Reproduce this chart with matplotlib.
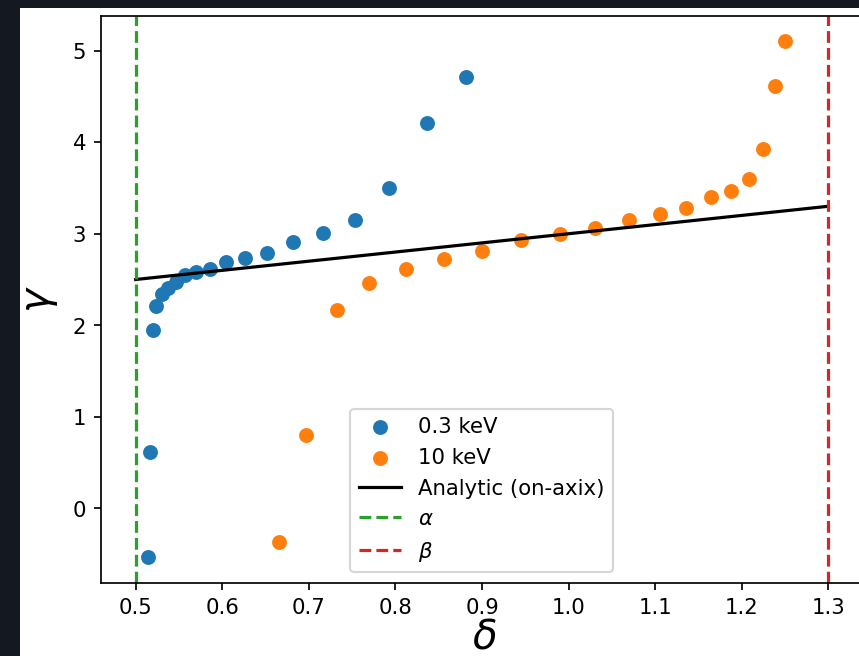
import matplotlib
matplotlib.use("Agg")
import matplotlib.pyplot as plt
from matplotlib.patches import Rectangle

# Fitted slope index gamma versus delta for two photon energies
delta_03kev = [0.514, 0.516, 0.520, 0.524, 0.530, 0.537, 0.547, 0.557, 0.570,
               0.586, 0.604, 0.626, 0.652, 0.682, 0.716, 0.753, 0.793, 0.836, 0.881]
gamma_03kev = [-0.53, 0.62, 1.95, 2.21, 2.34, 2.41, 2.47, 2.55, 2.58,
               2.61, 2.69, 2.73, 2.79, 2.91, 3.01, 3.15, 3.50, 4.21, 4.71]

delta_10kev = [0.665, 0.697, 0.732, 0.770, 0.812, 0.856, 0.900, 0.945, 0.990,
               1.031, 1.070, 1.105, 1.136, 1.164, 1.188, 1.208, 1.225, 1.238, 1.250]
gamma_10kev = [-0.37, 0.80, 2.17, 2.46, 2.62, 2.72, 2.81, 2.93, 3.00,
               3.06, 3.15, 3.22, 3.28, 3.40, 3.47, 3.60, 3.93, 4.61, 5.10]

# Analytic on-axis relation
delta_analytic = [0.5, 1.3]
gamma_analytic = [2.5, 3.3]

alpha_value = 0.5
beta_value = 1.3

DPI = 153
W, H = 859, 656
fig = plt.figure(figsize=((W + 0.3) / DPI, (H + 0.3) / DPI), dpi=DPI, facecolor="#141820")
canvas_bg = Rectangle((20 / W, 0), 1, (H - 8) / H, transform=fig.transFigure,
                      facecolor="white", edgecolor="none", zorder=-10)
fig.add_artist(canvas_bg)

ax = fig.add_axes([101 / W, (H - 582.7) / H, 766 / W, 566.7 / H])
ax.set_zorder(5)

ax.scatter(delta_03kev, gamma_03kev, color="C0", label="0.3 keV")
ax.scatter(delta_10kev, gamma_10kev, color="C1", label="10 keV")
ax.plot(delta_analytic, gamma_analytic, color="black", lw=1.5, label="Analytic (on-axix)")
ax.axvline(alpha_value, color="C2", ls="--", label=r"$\alpha$")
ax.axvline(beta_value, color="C3", ls="--", label=r"$\beta$")
ax.set_xlim(0.46, 1.345)

ax.set_xlabel(r"$\delta$", fontsize=19, labelpad=0)
ax.set_ylabel(r"$\gamma$", fontsize=19, labelpad=6)
ax.legend(loc="lower center", bbox_to_anchor=(0.497, 0))

fig.savefig("out.png", dpi=DPI, facecolor=fig.get_facecolor())
